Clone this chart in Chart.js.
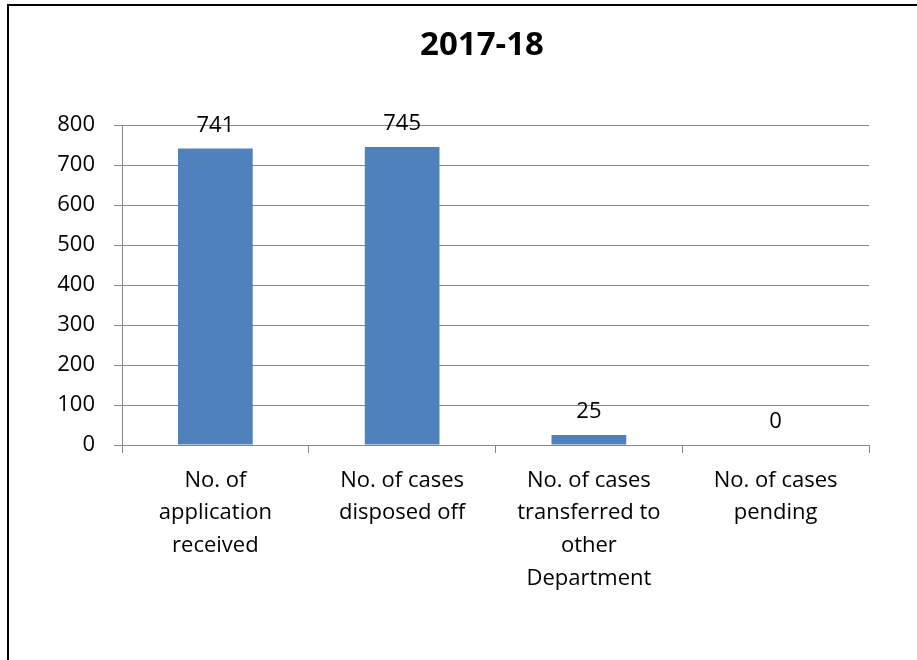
<!DOCTYPE html>
<html>
<head>
<meta charset="utf-8">
<script src="https://cdn.jsdelivr.net/npm/chart.js@4/dist/chart.umd.min.js"></script>
<style>
  html, body { margin: 0; padding: 0; background: #fff; overflow: hidden; }
  #wrap { position: relative; width: 917px; height: 660px; }
  #frame {
    position: absolute; left: 7px; top: 4px; width: 1000px; height: 800px;
    border-top: 2px solid #000; border-left: 2px solid #000;
    pointer-events: none;
  }
</style>
</head>
<body>
<div id="wrap">
  <canvas id="casesChart" width="917" height="660"></canvas>
  <div id="frame"></div>
</div>
<script>
const categories = [
  ['No. of', 'application', 'received'],
  ['No. of cases', 'disposed off'],
  ['No. of cases', 'transferred to', 'other', 'Department'],
  ['No. of cases', 'pending']
];
const caseCounts = [741, 745, 25, 0];
const yTicks = [0, 100, 200, 300, 400, 500, 600, 700, 800];
const chartTitle = '2017-18';

const FONT = '"Open Sans", sans-serif';

// title + value labels drawn on top of the bars
const labelsPlugin = {
  id: 'labelsPlugin',
  afterDatasetsDraw(chart) {
    const ctx = chart.ctx;
    ctx.save();
    ctx.fillStyle = '#000';
    ctx.textAlign = 'center';
    ctx.textBaseline = 'alphabetic';
    ctx.font = 'bold 33px ' + FONT;
    ctx.fillText(chartTitle, 482, 55);
    ctx.font = '22px ' + FONT;
    const meta = chart.getDatasetMeta(0);
    meta.data.forEach((bar, i) => {
      ctx.fillText(String(caseCounts[i]), bar.x, bar.y - 17);
    });
    ctx.restore();
  }
};

const ctx = document.getElementById('casesChart').getContext('2d');
const casesChart = new Chart(ctx, {
  type: 'bar',
  data: {
    labels: categories,
    datasets: [{
      label: chartTitle,
      data: caseCounts,
      backgroundColor: '#4F81BD',
      barPercentage: 0.4,
      categoryPercentage: 1.0
    }]
  },
  options: {
    responsive: false,
    animation: false,
    layout: { padding: { top: 125, right: 48, left: 0, bottom: 0 } },
    scales: {
      x: {
        grid: {
          offset: true,
          drawOnChartArea: false,
          drawTicks: true,
          tickLength: 8,
          color: '#868686'
        },
        border: { color: '#868686' },
        ticks: {
          color: '#000',
          padding: 11,
          maxRotation: 0,
          autoSkip: false,
          font: { family: FONT, size: 22, lineHeight: 1.49 }
        },
        afterFit(scale) { scale.height = 215; }
      },
      y: {
        min: 0,
        max: 800,
        afterBuildTicks(scale) { scale.ticks = yTicks.map(v => ({ value: v })); },
        grid: { color: '#868686', tickLength: 8 },
        border: { color: '#868686' },
        ticks: {
          color: '#000',
          padding: 19,
          font: { family: FONT, size: 22 }
        },
        afterFit(scale) { scale.width = 122; }
      }
    },
    plugins: {
      legend: { display: false },
      title: { display: false },
      tooltip: { enabled: false }
    }
  },
  plugins: [labelsPlugin]
});
</script>
</body>
</html>
